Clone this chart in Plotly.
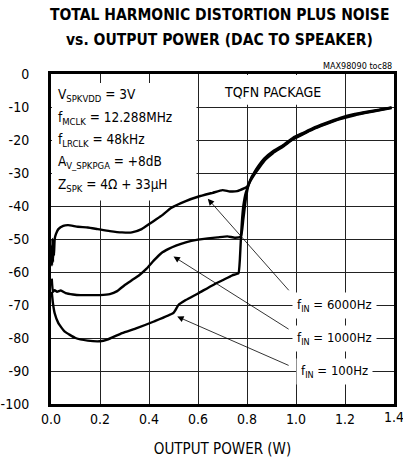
import plotly.graph_objects as go

# Output power (W) and THD+N (dB) for each input frequency
p_6000 = [0.002, 0.004, 0.006, 0.008, 0.010, 0.012, 0.015, 0.02, 0.03, 0.05, 0.07, 0.11, 0.15, 0.19,
          0.24, 0.29, 0.33, 0.37, 0.41, 0.45, 0.49, 0.55, 0.60, 0.66, 0.70, 0.73, 0.76, 0.79, 0.80,
          0.815, 0.83, 0.845, 0.87, 0.906, 0.95, 0.988, 1.03, 1.069, 1.12, 1.18, 1.24, 1.29, 1.34, 1.39]
thd_6000 = [-52, -58, -50, -57, -51, -55, -50, -48.5, -47, -46, -45.8, -46.3, -46.5, -47,
            -47.6, -48, -48, -47, -45, -43, -40.6, -38.5, -37.2, -36, -35.2, -35.6, -35.5, -34.6, -34.2,
            -32, -29.8, -28, -25.6, -23.4, -21.4, -19.3, -17.8, -16.4, -14.9, -13.3, -12.1, -11.4, -10.8, -10.1]

p_1000 = [0.003, 0.008, 0.015, 0.025, 0.04, 0.06, 0.09, 0.12, 0.16, 0.2, 0.24, 0.27, 0.3, 0.33, 0.36,
          0.39, 0.42, 0.45, 0.48, 0.51, 0.55, 0.6, 0.64, 0.68, 0.72, 0.75, 0.775, 0.785, 0.795, 0.805,
          0.82, 0.845, 0.87, 0.906, 0.95, 0.988, 1.03, 1.069, 1.12, 1.18, 1.24, 1.29, 1.34, 1.39]
thd_1000 = [-62, -66, -65.5, -66, -65.6, -66.4, -66.8, -67, -67, -67, -66.7, -65.8, -64, -62.5, -61,
            -59, -56.5, -54.3, -53, -52, -51, -50.2, -49.8, -49.5, -49.2, -49.6, -49.3, -44, -38, -34,
            -31, -28.4, -25.9, -23.7, -21.7, -19.6, -18, -16.6, -15.1, -13.5, -12.3, -11.6, -10.9, -10.2]

p_100 = [0.003, 0.008, 0.015, 0.03, 0.055, 0.1, 0.15, 0.2, 0.23, 0.29, 0.35, 0.42, 0.5, 0.52, 0.55,
         0.6, 0.66, 0.7, 0.74, 0.765, 0.771, 0.775, 0.779, 0.785, 0.795, 0.81, 0.83, 0.85, 0.875,
         0.906, 0.95, 0.988, 1.03, 1.069, 1.12, 1.18, 1.24, 1.29, 1.34, 1.39]
thd_100 = [-66, -69.5, -72.5, -75.5, -78, -80, -80.8, -81, -80.5, -78.5, -77, -75, -72.4, -70, -68.5,
           -66.5, -64, -62.5, -61, -60.4, -56, -50, -45, -40, -36, -33, -30.5, -28.4, -26,
           -24, -21.9, -19.8, -18.2, -16.8, -15.3, -13.7, -12.5, -11.7, -11.0, -10.3]

x_ticks = [0.0, 0.2, 0.4, 0.6, 0.8, 1.0, 1.2, 1.4]
y_ticks = [0, -10, -20, -30, -40, -50, -60, -70, -80, -90, -100]

# Curve labels: (text, label y, arrow tip x, arrow tip y, arrow tail x, arrow tail y)
curve_labels = [
    ("f<sub>IN</sub> = 6000Hz", -70, 0.64, -37.8, 0.976, -66),
    ("f<sub>IN</sub> = 1000Hz", -80, 0.50, -55.3, 0.976, -77.6),
    ("f<sub>IN</sub> = 100Hz", -90, 0.515, -73.5, 0.976, -88.5),
]

conditions = [
    "V<sub>SPKVDD</sub> = 3V",
    "f<sub>MCLK</sub> = 12.288MHz",
    "f<sub>LRCLK</sub> = 48kHz",
    "A<sub>V_SPKPGA</sub> = +8dB",
    "Z<sub>SPK</sub> = 4Ω + 33μH",
]

FONT = "DejaVu Sans Condensed, Liberation Sans Narrow, Roboto, sans-serif"

fig = go.Figure()
for px, py in [(p_6000, thd_6000), (p_1000, thd_1000), (p_100, thd_100)]:
    fig.add_trace(go.Scatter(x=px, y=py, mode="lines",
                             line=dict(color="black", width=2.4, shape="spline", smoothing=0.4),
                             showlegend=False, hoverinfo="skip"))

# white panels behind the condition text and package label
fig.add_shape(type="rect", x0=0.004, x1=0.594, y0=-38.3, y1=-2.7, layer="between",
              fillcolor="white", line_width=0)
fig.add_shape(type="rect", x0=0.61, x1=1.18, y0=-9.3, y1=-0.3, layer="between",
              fillcolor="white", line_width=0)

annotations = []
line_y = [-6.4, -13.2, -20.0, -26.8, -33.6]
for txt, yy in zip(conditions, line_y):
    annotations.append(dict(x=0.02, y=yy, xref="x", yref="y", text=txt, showarrow=False,
                            xanchor="left", yanchor="middle",
                            font=dict(family=FONT, size=13.5, color="black")))
annotations.append(dict(x=0.905, y=-5.5, xref="x", yref="y", text="TQFN PACKAGE", showarrow=False,
                        xanchor="center", yanchor="middle",
                        font=dict(family=FONT, size=14, color="black")))

for txt, ly, tx, ty, ax, ay in curve_labels:
    annotations.append(dict(x=tx, y=ty, ax=ax, ay=ay, xref="x", yref="y", axref="x", ayref="y",
                            text="", showarrow=True, arrowhead=2, arrowsize=1.6, arrowwidth=0.8,
                            arrowcolor="black", standoff=0, startstandoff=0))
    annotations.append(dict(x=1.156, y=ly, xref="x", yref="y", text=txt, showarrow=False,
                            xanchor="center", yanchor="middle", bgcolor="white", borderpad=4,
                            font=dict(family=FONT, size=13, color="black")))

annotations.append(dict(x=1.0, y=1.0, xref="paper", yref="paper", text="MAX98090 toc88",
                        showarrow=False, xanchor="right", yanchor="bottom", yshift=1,
                        font=dict(family=FONT, size=9, color="black")))

# the last x tick label sits at the page edge, where axis labels get dropped
last_tick = x_ticks[-1]
annotations.append(dict(x=last_tick, y=0, xref="x", yref="paper", text=f"{last_tick:.1f}",
                        showarrow=False, xanchor="center", yanchor="middle", yshift=-13,
                        font=dict(family=FONT, size=14, color="black")))

# two-line bold heading above the plot
for txt, ypix in [("TOTAL HARMONIC DISTORTION PLUS NOISE", 15), ("vs. OUTPUT POWER (DAC TO SPEAKER)", 40)]:
    annotations.append(dict(x=0.49, y=1.0, xref="paper", yref="paper", text=f"<b>{txt}</b>",
                            showarrow=False, xanchor="center", yanchor="middle",
                            yshift=74 - ypix,
                            font=dict(family=FONT, size=15.5, color="black")))

fig.update_layout(
    width=403, height=466,
    margin=dict(l=51, r=9, t=74, b=62),
    paper_bgcolor="white", plot_bgcolor="white",
    font=dict(family=FONT, size=14, color="black"),
    annotations=annotations,
    xaxis=dict(range=[0, 1.4], tickvals=x_ticks[:-1], ticktext=[f"{v:.1f}" for v in x_ticks[:-1]],
               showgrid=True, gridcolor="#222", gridwidth=1, zeroline=False, automargin=False,
               showline=True, linecolor="black", linewidth=3, mirror=True, ticks="",
               ticklabelstandoff=0,
               title=dict(text="OUTPUT POWER (W)", standoff=18, font=dict(size=15))),
    yaxis=dict(range=[-100, 0], tickvals=y_ticks, ticktext=[str(v) for v in y_ticks],
               showgrid=True, gridcolor="#222", gridwidth=1, zeroline=False, automargin=False,
               showline=True, linecolor="black", linewidth=3, mirror=True, ticks="",
               ticklabelstandoff=16),
)

fig.write_html("out.html")
